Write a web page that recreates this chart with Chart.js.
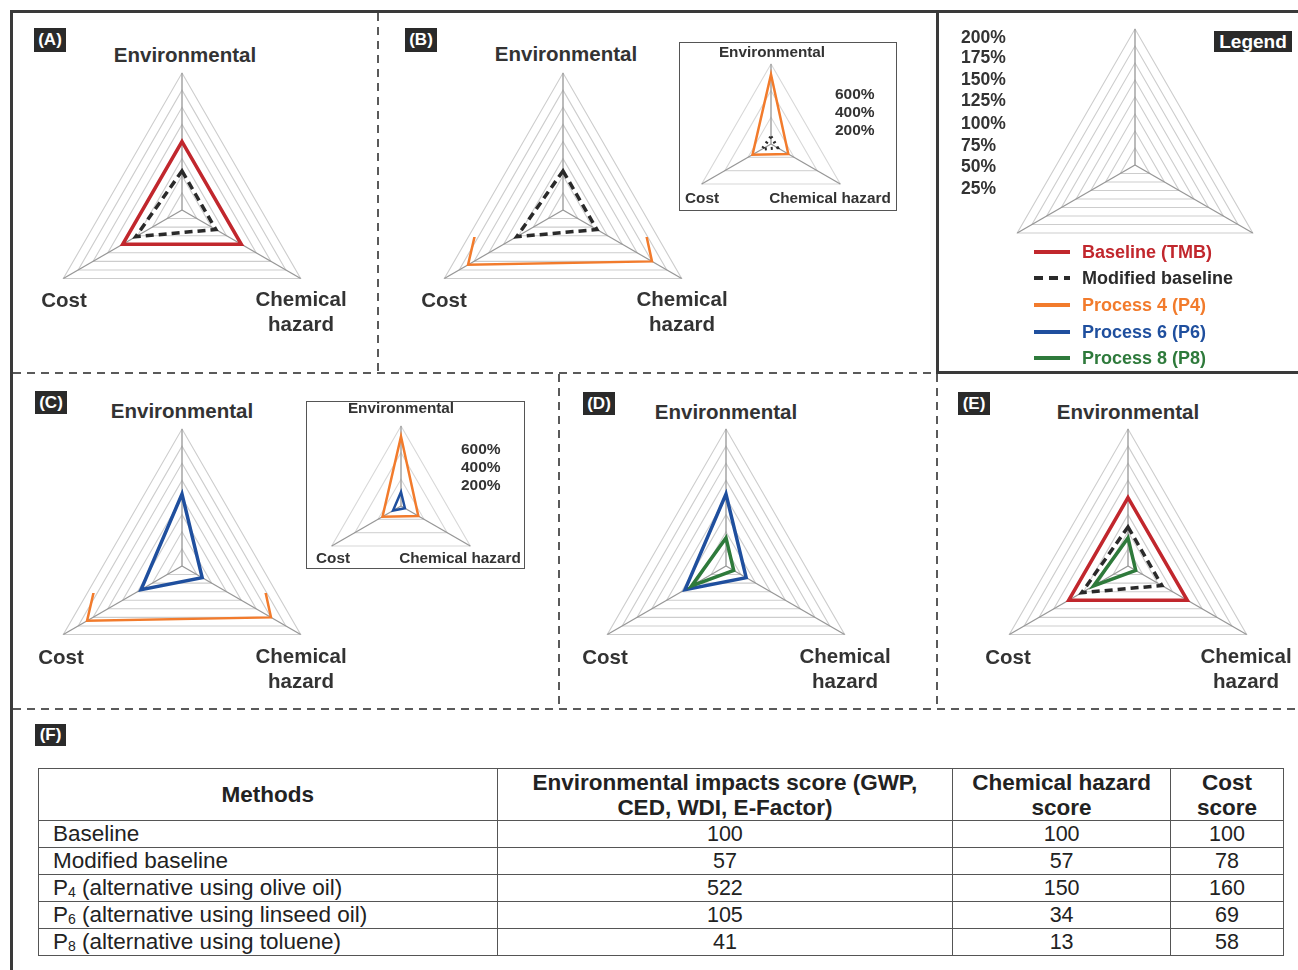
<!DOCTYPE html>
<html>
<head>
<meta charset="utf-8">
<script src="https://cdn.jsdelivr.net/npm/chart.js@4.4.1/dist/chart.umd.min.js"></script>
<style>
  body { margin: 0; background: #fff; font-family: "Liberation Sans", Arial, sans-serif; }
  #fig { position: relative; width: 1298px; height: 970px; overflow: hidden; background: #fff; }
  canvas { position: absolute; }
  .solid { position: absolute; background: #3a3a3a; }
  .dh { position: absolute; height: 1.8px; background: repeating-linear-gradient(to right, #5a5a5a 0 8px, transparent 8px 14px); }
  .dv { position: absolute; width: 1.8px; background: repeating-linear-gradient(to bottom, #5a5a5a 0 8px, transparent 8px 14px); }
  .lab { position: absolute; transform: translate(-50%, -50%); font-weight: bold; font-size: 20.5px; color: #333; text-align: center; line-height: 25px; white-space: nowrap; }
  .ilab { position: absolute; transform: translate(-50%, -50%); font-weight: bold; font-size: 15.3px; color: #333; white-space: nowrap; }
  .pct { position: absolute; font-weight: bold; font-size: 15.5px; color: #333; line-height: 18px; }
  .tag { position: absolute; background: #2a2a2a; color: #fff; font-weight: bold; font-size: 17px; text-align: center; line-height: 23px; }
  .inset { position: absolute; border: 1.5px solid #555; box-sizing: border-box; }
  .tick { position: absolute; left: 961px; transform: translateY(-50%); font-weight: bold; font-size: 17.5px; color: #333; }
  .leg { position: absolute; left: 1082px; transform: translateY(-50%); font-weight: bold; font-size: 18px; }
  .sw { position: absolute; left: 1034px; width: 36px; height: 4px; transform: translateY(-50%); }
  table { position: absolute; left: 38px; top: 768px; width: 1246px; border-collapse: collapse; font-size: 22.5px; color: #222; }
  td, th { border: 1.5px solid #555; padding: 0; line-height: 24px; }
  th { height: 51px; font-weight: bold; text-align: center; line-height: 25px; }
  td { height: 26px; text-align: center; }
  td.n { font-size: 21.5px; }
  td.m { text-align: left; padding-left: 14px; }
  sub { font-size: 14px; vertical-align: -2px; line-height: 0; }
</style>
</head>
<body>
<div id="fig">
  <!-- frame -->
  <div class="solid" style="left:10px;top:10px;width:1288px;height:3px"></div>
  <div class="solid" style="left:10px;top:10px;width:3px;height:960px"></div>
  <div class="solid" style="left:936px;top:10px;width:3px;height:364px"></div>
  <div class="solid" style="left:936px;top:371px;width:362px;height:3px"></div>
  <div class="dv" style="left:377px;top:13px;height:359px"></div>
  <div class="dh" style="left:13px;top:372px;width:923px"></div>
  <div class="dv" style="left:558px;top:374px;height:334px"></div>
  <div class="dv" style="left:936px;top:374px;height:334px"></div>
  <div class="dh" style="left:13px;top:708px;width:1285px"></div>

  <!-- inset boxes -->
  <div class="inset" style="left:679px;top:42px;width:218px;height:169px"></div>
  <div class="inset" style="left:306px;top:401px;width:219px;height:168px"></div>

  <canvas id="cA" width="282" height="282" style="left:41px;top:69px"></canvas>
  <canvas id="cB" width="282" height="282" style="left:422px;top:69px"></canvas>
  <canvas id="cC" width="282" height="282" style="left:41px;top:425px"></canvas>
  <canvas id="cD" width="282" height="282" style="left:585px;top:425px"></canvas>
  <canvas id="cE" width="282" height="282" style="left:987px;top:425px"></canvas>
  <canvas id="cL" width="280" height="280" style="left:995px;top:25px"></canvas>
  <canvas id="cBi" width="168" height="168" style="left:687px;top:60px"></canvas>
  <canvas id="cCi" width="168" height="168" style="left:317px;top:422px"></canvas>

  <div id="texts"></div>

  <table id="tbl"></table>
</div>

<script>
const axisLabels = ['Environmental', 'Chemical hazard', 'Cost'];

// scores in axis order: environmental, chemical hazard, cost
const baseline = [100, 100, 100];
const modifiedBaseline = [57, 57, 78];
const process4 = [522, 150, 160];
const process6 = [105, 34, 69];
const process8 = [41, 13, 58];

const mainTicks = ['200%', '175%', '150%', '125%', '100%', '75%', '50%', '25%'];
const insetTicks = ['600%', '400%', '200%'];

const methods = ['Baseline', 'Modified baseline', 'P<sub>4</sub> (alternative using olive oil)',
  'P<sub>6</sub> (alternative using linseed oil)', 'P<sub>8</sub> (alternative using toluene)'];
const methodSeries = [baseline, modifiedBaseline, process4, process6, process8];

const RED = '#c1272d', ORANGE = '#f27b2c', BLUE = '#1f4f9e', GREEN = '#2e7a3b', DARK = '#2a2a2a';

function line(data, color, width, extra) {
  return Object.assign({ data: data, borderColor: color, borderWidth: width, fill: false,
    pointRadius: 0, tension: 0, borderJoinStyle: 'miter' }, extra || {});
}

function radar(id, max, step, datasets, gridColor) {
  new Chart(document.getElementById(id), {
    type: 'radar',
    data: { labels: axisLabels, datasets: datasets },
    options: {
      responsive: false,
      animation: false,
      layout: { padding: 4 },
      plugins: { legend: { display: false }, tooltip: { enabled: false } },
      scales: {
        r: {
          min: 0, max: max,
          ticks: { display: false, stepSize: step },
          grid: { circular: false, color: gridColor, lineWidth: 1.1 },
          angleLines: { color: '#979797', lineWidth: 1.3 },
          pointLabels: { display: false }
        }
      }
    }
  });
}

// P4 runs off the 200% scale, only its lower part is shown
const p4Clip = { left: false, right: false, bottom: false, top: -164 };

radar('cA', 200, 25, [
  line(modifiedBaseline, DARK, 3.5, { borderDash: [8, 5] }),
  line(baseline, RED, 3.5)
], '#cdcdcd');

radar('cB', 200, 25, [
  line(modifiedBaseline, DARK, 3.5, { borderDash: [8, 5] }),
  line(process4, ORANGE, 2.5, { clip: p4Clip })
], '#cdcdcd');

radar('cC', 200, 25, [
  line(process6, BLUE, 3.5),
  line(process4, ORANGE, 2.5, { clip: p4Clip })
], '#cdcdcd');

radar('cD', 200, 25, [
  line(process8, GREEN, 3.5),
  line(process6, BLUE, 3.5)
], '#cdcdcd');

radar('cE', 200, 25, [
  line(process8, GREEN, 3.5),
  line(modifiedBaseline, DARK, 3.5, { borderDash: [8, 5] }),
  line(baseline, RED, 3.5)
], '#cdcdcd');

radar('cL', 200, 25, [], '#cdcdcd');

radar('cBi', 600, 200, [
  line(modifiedBaseline, DARK, 3, { borderDash: [2, 4] }),
  line(process4, ORANGE, 2.5)
], '#d8d8d8');

radar('cCi', 600, 200, [
  line(process6, BLUE, 2.5),
  line(process4, ORANGE, 2.5)
], '#d8d8d8');

// texts
let html = '';
function lab(x, y, t) { html += '<div class="lab" style="left:' + x + 'px;top:' + y + 'px">' + t + '</div>'; }
function ilab(x, y, t) { html += '<div class="ilab" style="left:' + x + 'px;top:' + y + 'px">' + t + '</div>'; }
function tag(x, y, w, h, t) { html += '<div class="tag" style="left:' + x + 'px;top:' + y + 'px;width:' + w + 'px;height:' + h + 'px;line-height:' + h + 'px">' + t + '</div>'; }

const panels = [
  { env: [185, 54], cost: [64, 299], chem: [301, 311] },
  { env: [566, 53], cost: [444, 299], chem: [682, 311] },
  { env: [182, 410], cost: [61, 656], chem: [301, 668] },
  { env: [726, 411], cost: [605, 656], chem: [845, 668] },
  { env: [1128, 411], cost: [1008, 656], chem: [1246, 668] }
];
panels.forEach(p => {
  lab(p.env[0], p.env[1], axisLabels[0]);
  lab(p.cost[0], p.cost[1], axisLabels[2]);
  lab(p.chem[0], p.chem[1], 'Chemical<br>hazard');
});

tag(34, 28, 32, 24, '(A)');
tag(405, 28, 32, 24, '(B)');
tag(35, 391, 32, 23, '(C)');
tag(583, 392, 32, 23, '(D)');
tag(958, 392, 32, 23, '(E)');
tag(35, 724, 31, 22, '(F)');

// insets
[[772, 52, 702, 198, 830, 198, 835, 94], [401, 408, 333, 558, 460, 558, 461, 449]].forEach(a => {
  ilab(a[0], a[1], axisLabels[0]);
  ilab(a[2], a[3], axisLabels[2]);
  ilab(a[4], a[5], axisLabels[1]);
  insetTicks.forEach((t, i) => {
    html += '<div class="pct" style="left:' + a[6] + 'px;top:' + (a[7] - 9 + i * 18) + 'px">' + t + '</div>';
  });
});

// legend panel
const tickY = [37, 57, 79, 100, 123, 145, 166, 188];
mainTicks.forEach((t, i) => { html += '<div class="tick" style="top:' + tickY[i] + 'px">' + t + '</div>'; });
html += '<div class="tag" style="left:1214px;top:31px;width:78px;height:21px;line-height:21px;font-size:19px">Legend</div>';

const legendItems = [
  ['Baseline (TMB)', RED, false],
  ['Modified baseline', DARK, true],
  ['Process 4 (P4)', ORANGE, false],
  ['Process 6 (P6)', BLUE, false],
  ['Process 8 (P8)', GREEN, false]
];
const legY = [252, 278, 305, 332, 358];
legendItems.forEach((it, i) => {
  const bg = it[2] ? 'repeating-linear-gradient(to right,' + it[1] + ' 0 9px, transparent 9px 15px)' : it[1];
  html += '<div class="sw" style="top:' + legY[i] + 'px;background:' + bg + '"></div>';
  html += '<div class="leg" style="top:' + legY[i] + 'px;color:' + it[1] + '">' + it[0] + '</div>';
});
document.getElementById('texts').innerHTML = html;

// table (F)
let t = '<colgroup><col style="width:459px"><col style="width:456px"><col style="width:218px"><col style="width:113px"></colgroup>';
t += '<tr><th>Methods</th><th>Environmental impacts score (GWP,<br>CED, WDI, E-Factor)</th><th>Chemical hazard<br>score</th><th>Cost<br>score</th></tr>';
methods.forEach((m, i) => {
  const s = methodSeries[i];
  t += '<tr><td class="m">' + m + '</td><td class="n">' + s[0] + '</td><td class="n">' + s[1] + '</td><td class="n">' + s[2] + '</td></tr>';
});
document.getElementById('tbl').innerHTML = t;
</script>
</body>
</html>
